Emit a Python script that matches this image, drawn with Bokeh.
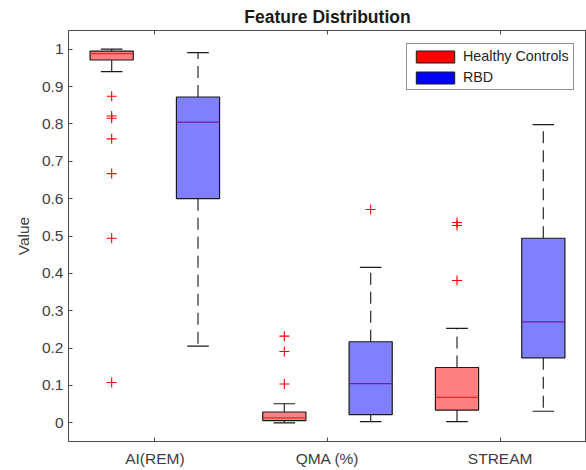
from bokeh.plotting import figure
from bokeh.models import (ColumnDataSource, FixedTicker, LinearAxis, Range1d,
                          Legend, LegendItem, NumeralTickFormatter)
from bokeh.embed import file_html
from bokeh.resources import INLINE

# ---- data ----
categories = ["AI(REM)", "QMA (%)", "STREAM"]
groups = ["Healthy Controls", "RBD"]

hc_lower = [0.940, 0.000, 0.003]
hc_q1 = [0.971, 0.006, 0.034]
hc_median = [0.988, 0.013, 0.068]
hc_q3 = [0.995, 0.029, 0.148]
hc_upper = [1.000, 0.051, 0.253]
hc_outliers = [[0.874, 0.821, 0.815, 0.760, 0.667, 0.494, 0.108],
               [0.232, 0.191, 0.104],
               [0.536, 0.528, 0.381]]

rbd_lower = [0.205, 0.003, 0.031]
rbd_q1 = [0.600, 0.022, 0.174]
rbd_median = [0.805, 0.105, 0.270]
rbd_q3 = [0.872, 0.217, 0.494]
rbd_upper = [0.991, 0.416, 0.798]
rbd_outliers = [[], [0.571], []]

y_ticks = [0, 0.1, 0.2, 0.3, 0.4, 0.5, 0.6, 0.7, 0.8, 0.9, 1]

# ---- style ----
FONT = "Liberation Sans"
TXT = "#404040"
AX = "#4d4d4d"
BOX_W = 0.25
CAP_W = 0.125
OFFSET = 0.25
NAN = float("nan")

p = figure(width=586, height=470, x_range=Range1d(0.5, 3.5), y_range=Range1d(-0.05, 1.05),
           output_backend="svg", toolbar_location=None,
           min_border_left=68, min_border_right=0, min_border_top=30, min_border_bottom=29)
p.title.text = "Feature Distribution"
p.title.align = "center"
p.title.text_font = FONT
p.title.text_font_size = "17.5px"
p.title.text_font_style = "bold"
p.title.text_color = "#1a1a1a"
p.title.standoff = 7
p.grid.visible = False
p.outline_line_color = AX
p.outline_line_width = 1
p.background_fill_color = "white"
p.border_fill_color = "white"


def draw_group(idx_offset, lower, q1, med, q3, upper, outliers, fill, med_color):
    xs = [i + 1 + idx_offset for i in range(len(categories))]
    src = ColumnDataSource(dict(x=xs, lower=lower, q1=q1, med=med, q3=q3, upper=upper,
                                cl=[x - CAP_W / 2 for x in xs], cr=[x + CAP_W / 2 for x in xs],
                                bl=[x - BOX_W / 2 for x in xs], br=[x + BOX_W / 2 for x in xs]))
    # whiskers
    p.segment(x0="x", y0="q3", x1="x", y1="upper", source=src, line_color="#3a3a3a",
              line_width=1.3, line_dash="12 7")
    p.segment(x0="x", y0="q1", x1="x", y1="lower", source=src, line_color="#3a3a3a",
              line_width=1.3, line_dash="12 7")
    # caps
    p.segment(x0="cl", y0="upper", x1="cr", y1="upper", source=src, line_color="#1a1a1a", line_width=1.2)
    p.segment(x0="cl", y0="lower", x1="cr", y1="lower", source=src, line_color="#1a1a1a", line_width=1.2)
    # boxes
    p.vbar(x="x", width=BOX_W, bottom="q1", top="q3", source=src, fill_color=fill,
           line_color="#1a1a1a", line_width=1.2)
    # medians
    p.segment(x0="bl", y0="med", x1="br", y1="med", source=src, line_color=med_color, line_width=1.3)
    # outliers
    ox, oy = [], []
    for x, vals in zip(xs, outliers):
        for v in vals:
            ox.append(x)
            oy.append(v)
    p.scatter(ox, oy, marker="cross", size=10, line_color="#ff0000", line_width=1.1)


draw_group(-OFFSET, hc_lower, hc_q1, hc_median, hc_q3, hc_upper, hc_outliers, "#ff8080", "#e8262b")
draw_group(OFFSET, rbd_lower, rbd_q1, rbd_median, rbd_q3, rbd_upper, rbd_outliers, "#8080ff", "#7a1a9e")

# legend-only renderers (NaN data: nothing drawn in the plot area)
r_hc = p.vbar(x=[NAN], top=[NAN], bottom=[NAN], width=0.1,
              fill_color="#ff0000", line_color="#1a1a1a", line_width=1)
r_rbd = p.vbar(x=[NAN], top=[NAN], bottom=[NAN], width=0.1,
               fill_color="#0000ff", line_color="#1a1a1a", line_width=1)
legend = Legend(items=[LegendItem(label=groups[0], renderers=[r_hc]),
                       LegendItem(label=groups[1], renderers=[r_rbd])],
                location=(338, 351), orientation="vertical",
                glyph_width=48, glyph_height=15, label_height=15, label_standoff=4,
                spacing=5, padding=4, margin=0,
                label_text_font=FONT, label_text_font_size="14.3px", label_text_color="#262626",
                border_line_color="#262626", border_line_width=1, background_fill_color="white",
                background_fill_alpha=1)
p.add_layout(legend)

# axes
xa = p.xaxis[0]
xa.ticker = FixedTicker(ticks=[1, 2, 3])
xa.major_label_overrides = {i + 1: c for i, c in enumerate(categories)}
ya = p.yaxis[0]
ya.ticker = FixedTicker(ticks=y_ticks)
ya.formatter = NumeralTickFormatter(format="0.[0]")
ya.axis_label = "Value"
for ax in (xa, ya):
    ax.major_tick_in = 4
    ax.major_tick_out = 0
    ax.minor_tick_in = 0
    ax.minor_tick_out = 0
    ax.axis_line_color = AX
    ax.major_tick_line_color = AX
    ax.major_label_text_font = FONT
    ax.major_label_text_font_size = "15.5px"
    ax.major_label_text_color = TXT
xa.major_label_standoff = 8
ya.major_label_standoff = 5
ya.axis_label_text_font = FONT
ya.axis_label_text_font_size = "15.5px"
ya.axis_label_text_font_style = "normal"
ya.axis_label_text_color = TXT
ya.axis_label_standoff = 7

top = LinearAxis(ticker=FixedTicker(ticks=[1, 2, 3]), major_label_text_font_size="1px",
                 major_label_overrides={1: "", 2: "", 3: ""},
                 major_label_standoff=0, major_tick_in=4, major_tick_out=0,
                 minor_tick_in=0, minor_tick_out=0, axis_line_color=AX, major_tick_line_color=AX)
p.add_layout(top, "above")

open("out.html", "w").write(file_html(p, INLINE))
